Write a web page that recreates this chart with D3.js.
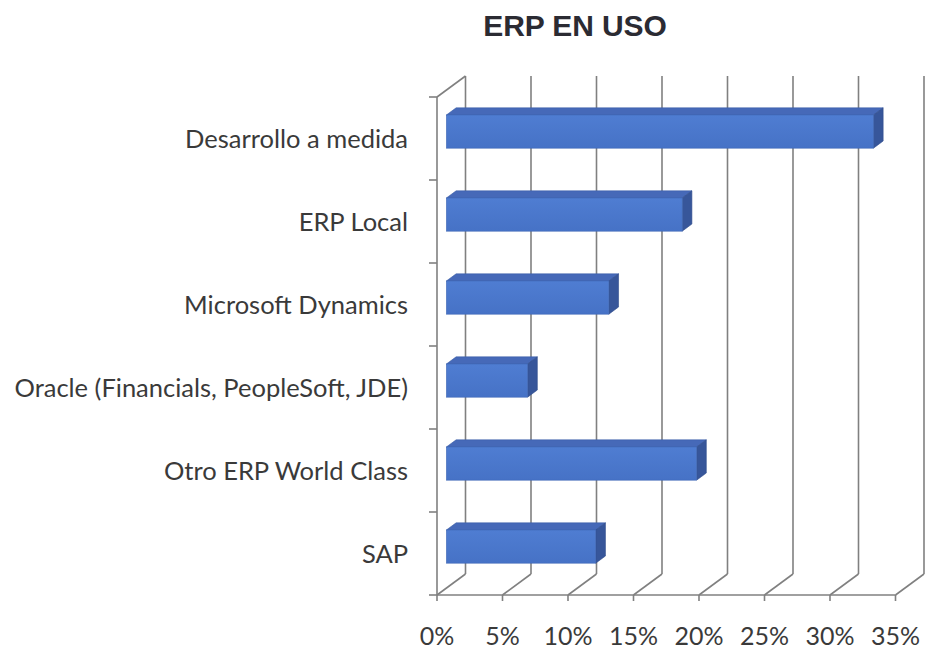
<!DOCTYPE html>
<html>
<head>
<meta charset="utf-8">
<script src="https://cdn.jsdelivr.net/npm/d3@7"></script>
<style>
  html, body { margin: 0; padding: 0; background: #ffffff; }
  svg { display: block; }
</style>
</head>
<body>
<svg id="chart" width="925" height="651"></svg>
<script>
// ---- data ----
const title = "ERP EN USO";
const categories = [
  "Desarrollo a medida",
  "ERP Local",
  "Microsoft Dynamics",
  "Oracle (Financials, PeopleSoft, JDE)",
  "Otro ERP World Class",
  "SAP"
];
const values = [0.326, 0.180, 0.124, 0.062, 0.191, 0.114];
const xTicks = [0, 0.05, 0.10, 0.15, 0.20, 0.25, 0.30, 0.35];

// ---- layout ----
const svg = d3.select("#chart");
const frontLeft = 437, frontRight = 895.5;
const topY = 97, floorY = 595;
const DX = 28.5, DY = -21;       // depth offset of back wall
const d1 = 0.33, d2 = 0.67;      // bar depth (front, back) fractions
const gridColor = "#808080";

const x = d3.scaleLinear().domain([0, 0.35]).range([frontLeft, frontRight]);
const y = d3.scaleBand().domain(categories).range([topY, floorY]).padding(0);
const barH = y.bandwidth() * 0.4;

// gradient for front faces
const defs = svg.append("defs");
const g1 = defs.append("linearGradient").attr("id", "frontGrad")
  .attr("x1", 0).attr("y1", 0).attr("x2", 0).attr("y2", 1);
g1.append("stop").attr("offset", "0%").attr("stop-color", "#4f7dd2");
g1.append("stop").attr("offset", "100%").attr("stop-color", "#4672c6");

// title
svg.append("text")
  .attr("x", 575).attr("y", 36)
  .attr("text-anchor", "middle")
  .attr("font-family", "Liberation Sans, Arial, sans-serif")
  .attr("font-weight", "bold")
  .attr("font-size", 30)
  .attr("letter-spacing", -0.1)
  .attr("fill", "#2b2b33")
  .text(title);

const grid = svg.append("g").attr("stroke", gridColor).attr("stroke-width", 1.6).attr("fill", "none");

// back wall vertical gridlines
grid.selectAll("line.back").data(xTicks).join("line")
  .attr("class", "back")
  .attr("x1", d => x(d) + DX).attr("x2", d => x(d) + DX)
  .attr("y1", topY + DY).attr("y2", floorY + DY);

// floor diagonals
grid.selectAll("line.floor").data(xTicks).join("line")
  .attr("class", "floor")
  .attr("x1", d => x(d)).attr("y1", floorY)
  .attr("x2", d => x(d) + DX).attr("y2", floorY + DY);

// left wall top diagonal
grid.append("line")
  .attr("x1", frontLeft).attr("y1", topY)
  .attr("x2", frontLeft + DX).attr("y2", topY + DY);

// front floor axis line
grid.append("line")
  .attr("x1", frontLeft).attr("y1", floorY)
  .attr("x2", frontRight).attr("y2", floorY);

// front-left vertical axis
grid.append("line")
  .attr("x1", frontLeft).attr("y1", topY)
  .attr("x2", frontLeft).attr("y2", floorY);

// x tick marks (downward)
grid.selectAll("line.xt").data(xTicks).join("line")
  .attr("class", "xt")
  .attr("x1", d => x(d)).attr("x2", d => x(d))
  .attr("y1", floorY).attr("y2", floorY + 6);

// category tick marks (leftward)
const catBounds = categories.map(c => y(c)).concat([floorY]);
grid.selectAll("line.yt").data(catBounds).join("line")
  .attr("class", "yt")
  .attr("x1", frontLeft - 8).attr("x2", frontLeft)
  .attr("y1", d => d).attr("y2", d => d);

// bars
const bars = svg.append("g");
const ddx = (d2 - d1) * DX, ddy = (d2 - d1) * DY;
categories.forEach((c, i) => {
  const yc = y(c) + y.bandwidth() / 2 + d1 * DY;
  const xa = x(0) + d1 * DX;
  const xb = x(values[i]) + d1 * DX;
  const yt = yc - barH / 2, yb = yc + barH / 2;
  const g = bars.append("g");
  // top face
  g.append("polygon")
    .attr("points", [[xa, yt], [xb, yt], [xb + ddx, yt + ddy], [xa + ddx, yt + ddy]].map(p => p.join(",")).join(" "))
    .attr("fill", "#4669b8").attr("stroke", "#3d5fa8").attr("stroke-width", 0.6);
  // side face
  g.append("polygon")
    .attr("points", [[xb, yt], [xb + ddx, yt + ddy], [xb + ddx, yb + ddy], [xb, yb]].map(p => p.join(",")).join(" "))
    .attr("fill", "#37569a").attr("stroke", "#2f4c8c").attr("stroke-width", 0.6);
  // front face
  g.append("rect")
    .attr("x", xa).attr("y", yt)
    .attr("width", xb - xa).attr("height", barH)
    .attr("fill", "url(#frontGrad)").attr("stroke", "#3f67b5").attr("stroke-width", 0.6);
});

// category labels
svg.append("g").selectAll("text").data(categories).join("text")
  .attr("x", 408)
  .attr("y", d => y(d) + y.bandwidth() / 2 + 1)
  .attr("dy", "0.35em")
  .attr("text-anchor", "end")
  .attr("font-family", "Lato, 'Open Sans', sans-serif")
  .attr("font-size", 25.5)
  .attr("fill", "#3a3a3a")
  .text(d => d);

// x tick labels
svg.append("g").selectAll("text").data(xTicks).join("text")
  .attr("x", d => x(d))
  .attr("y", 636)
  .attr("dy", "0.35em")
  .attr("text-anchor", "middle")
  .attr("font-family", "Lato, 'Open Sans', sans-serif")
  .attr("font-size", 25)
  .attr("fill", "#3a3a3a")
  .text(d => d3.format(".0%")(d));
</script>
</body>
</html>
